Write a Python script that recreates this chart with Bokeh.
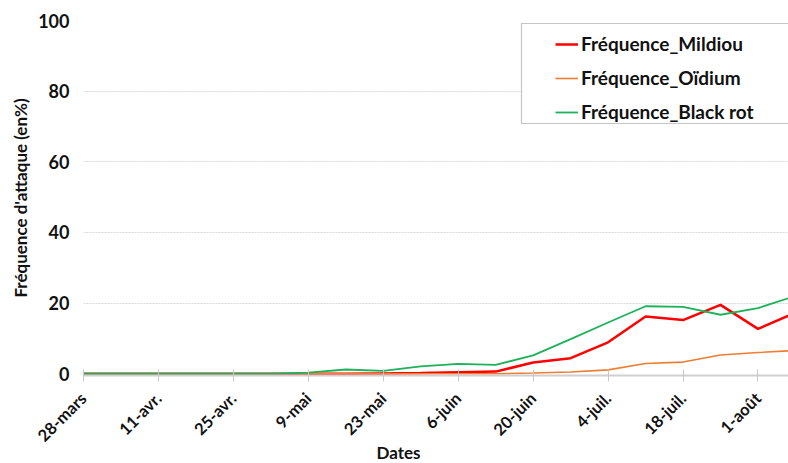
import pandas as pd
from math import pi
from bokeh.plotting import figure
from bokeh.models import FixedTicker, Range1d, Legend, LegendItem, BoxAnnotation, Title
from bokeh.embed import file_html
from bokeh.resources import INLINE

dates = ["2021-03-28", "2021-04-04", "2021-04-11", "2021-04-18", "2021-04-25",
         "2021-05-02", "2021-05-09", "2021-05-16", "2021-05-23", "2021-05-30",
         "2021-06-06", "2021-06-13", "2021-06-20", "2021-06-27", "2021-07-04",
         "2021-07-11", "2021-07-18", "2021-07-25", "2021-08-01", "2021-08-08"]
mildiou = [0, 0, 0, 0, 0, 0, 0, 0, 0.1, 0.2, 0.4, 0.6, 3.2, 4.4, 8.9,
           16.2, 15.2, 19.5, 12.7, 17.3]
oidium = [0, 0, 0, 0, 0, 0, 0, 0, 0, 0, 0, 0, 0.2, 0.5, 1.1,
          2.9, 3.3, 5.3, 6.0, 6.6]
black_rot = [0, 0, 0, 0, 0, 0, 0.3, 1.2, 0.8, 2.1, 2.8, 2.5, 5.2, 9.8, 14.5,
             19.1, 18.9, 16.7, 18.6, 22.0]
tick_dates = ["2021-03-28", "2021-04-11", "2021-04-25", "2021-05-09", "2021-05-23",
              "2021-06-06", "2021-06-20", "2021-07-04", "2021-07-18", "2021-08-01"]
tick_labels = ["28-mars", "11-avr.", "25-avr.", "9-mai", "23-mai", "6-juin",
               "20-juin", "4-juil.", "18-juil.", "1-août"]
y_ticks = [0, 20, 40, 60, 80, 100]

DAY = 86400000.0
x = [float(v) for v in (pd.to_datetime(dates).astype("int64") // 10**6)]
xt = [float(v) for v in (pd.to_datetime(tick_dates).astype("int64") // 10**6)]
x_start = xt[0]
x_end = xt[0] + 131.7 * DAY

FONT = "Lato"
TXT = "#111111"

p = figure(width=788, height=463, output_backend="svg", toolbar_location=None,
           x_range=Range1d(x_start, x_end), y_range=Range1d(-0.5, 100),
           min_border_left=83, min_border_right=0, min_border_top=20,
           min_border_bottom=88)
p.outline_line_color = None
p.background_fill_color = "white"
p.border_fill_color = "white"

r_m = p.line(x, mildiou, line_color="#ff0000", line_width=2.5)
r_o = p.line(x, oidium, line_color="#ed7d31", line_width=1.6)
r_b = p.line(x, black_rot, line_color="#1db15a", line_width=1.8)

p.xaxis.ticker = FixedTicker(ticks=xt)
p.xaxis.major_label_overrides = {t: l for t, l in zip(xt, tick_labels)}
p.xaxis.major_label_orientation = pi / 4
p.xaxis.major_label_text_font = FONT
p.xaxis.major_label_text_font_style = "bold"
p.xaxis.major_label_text_font_size = "16.5px"
p.xaxis.major_label_text_color = TXT
p.xaxis.major_label_standoff = 14
p.xaxis.axis_line_color = "#d0d0d0"
p.xaxis.axis_line_width = 2
p.xaxis.major_tick_line_color = "#c8c8c8"
p.xaxis.major_tick_in = 6
p.xaxis.major_tick_out = 6
p.xaxis.minor_tick_line_color = None

p.yaxis.ticker = FixedTicker(ticks=y_ticks)
p.yaxis.major_label_text_font = FONT
p.yaxis.major_label_text_font_style = "bold"
p.yaxis.major_label_text_font_size = "18px"
p.yaxis.major_label_text_color = TXT
p.yaxis.major_label_standoff = 8
p.yaxis.axis_line_color = None
p.yaxis.major_tick_line_color = None
p.yaxis.minor_tick_line_color = None
p.yaxis.axis_label = "Fréquence d'attaque (en%)"
p.yaxis.axis_label_text_font = FONT
p.yaxis.axis_label_text_font_style = "bold"
p.yaxis.axis_label_text_font_size = "17px"
p.yaxis.axis_label_text_color = TXT
p.yaxis.axis_label_standoff = 4

p.xgrid.grid_line_color = None
p.ygrid.ticker = FixedTicker(ticks=y_ticks[1:])
p.ygrid.grid_line_color = "#d9d9d9"
p.ygrid.grid_line_dash = "2 1"

p.add_layout(Title(text="Dates", align="left", offset=293, standoff=-28,
                   vertical_align="top",
                   text_font=FONT, text_font_style="bold", text_font_size="17px",
                   text_color=TXT), "below")

p.add_layout(BoxAnnotation(left=438, right=710, top=352, bottom=252,
                           left_units="screen", right_units="screen",
                           top_units="screen", bottom_units="screen",
                           fill_color="white", fill_alpha=1.0,
                           line_color="#404040", line_width=1.2))

legend = Legend(items=[LegendItem(label="Fréquence_Mildiou", renderers=[r_m]),
                       LegendItem(label="Fréquence_Oïdium", renderers=[r_o]),
                       LegendItem(label="Fréquence_Black rot", renderers=[r_b])],
                location=(472, 252), orientation="vertical",
                border_line_color=None, background_fill_alpha=0.0,
                padding=5, spacing=11, glyph_width=23, glyph_height=22,
                label_height=22, label_standoff=3,
                label_text_font=FONT, label_text_font_style="bold",
                label_text_font_size="19px", label_text_color=TXT)
p.add_layout(legend, "center")

open("out.html", "w").write(file_html(p, INLINE))
